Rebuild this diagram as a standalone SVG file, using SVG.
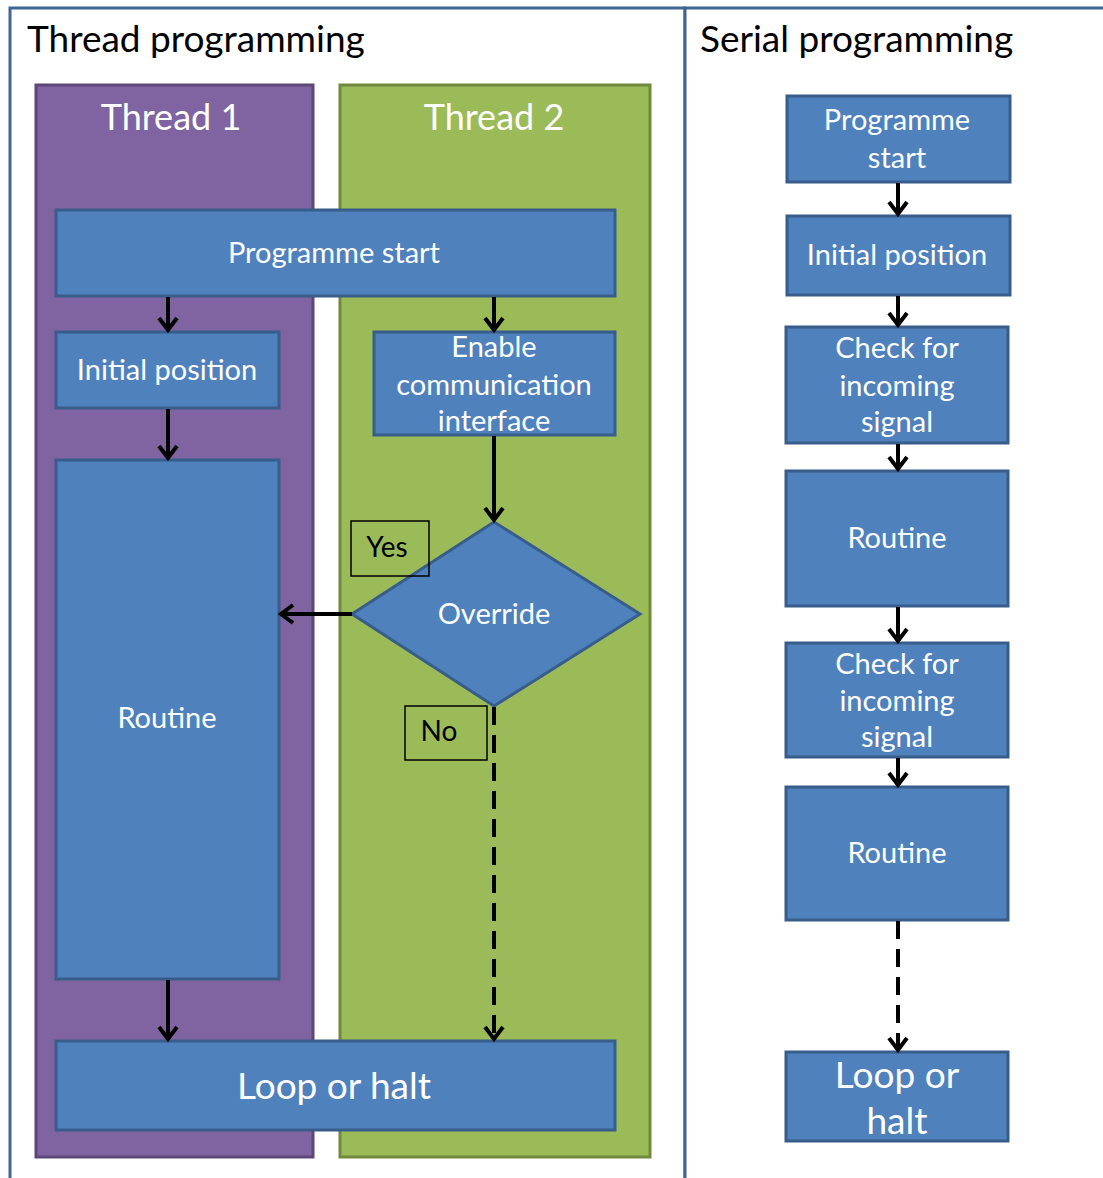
<svg xmlns="http://www.w3.org/2000/svg" width="1103" height="1178" viewBox="0 0 1103 1178">
<style>
.frame{fill:#fff;stroke:#3f6593;stroke-width:3}
.box{fill:#4f81bd;stroke:#385d8a;stroke-width:3}
.t{font-family:Lato,"Open Sans","Liberation Sans",sans-serif;fill:#fff;text-anchor:middle;dominant-baseline:central}
.h{font-family:Lato,"Open Sans","Liberation Sans",sans-serif;fill:#000;font-size:37px}
.c{stroke:#000;stroke-width:4;fill:none;marker-end:url(#ah)}
.d{stroke-dasharray:18,10}
.lbl{fill:none;stroke:#000;stroke-width:1.5}
</style>
<defs>
<marker id="ah" markerUnits="userSpaceOnUse" markerWidth="28" markerHeight="28" viewBox="-14 -14 28 28" refX="0" refY="0" orient="auto">
<path d="M-12,-9 L0,0 L-12,9" fill="none" stroke="#000" stroke-width="4"/>
</marker>
</defs>
<rect width="1103" height="1178" fill="#fff"/>
<g id="thread-panel">
<rect class="frame" x="10" y="8" width="675" height="1172"/>
<text class="h" x="27" y="52">Thread programming</text>
</g>
<g id="serial-panel">
<rect class="frame" x="685" y="8" width="430" height="1172"/>
<text class="h" x="700" y="52">Serial programming</text>
</g>
<g id="thread1">
<rect x="36" y="85" width="277" height="1072" fill="#8064a2" stroke="#5c4776" stroke-width="3"/>
<text class="t" x="171" y="116" font-size="36">Thread 1</text>
</g>
<g id="thread2">
<rect x="340" y="85" width="310" height="1072" fill="#9bbb59" stroke="#71893f" stroke-width="3"/>
<text class="t" x="494" y="116" font-size="36">Thread 2</text>
</g>
<g id="t-start"><rect class="box" x="56" y="210" width="559" height="86"/><text class="t" x="334" y="251" font-size="29">Programme start</text></g>
<g id="t-init"><rect class="box" x="56" y="332" width="223" height="76"/><text class="t" x="167" y="368" font-size="29">Initial position</text></g>
<g id="t-enable"><rect class="box" x="374" y="332" width="241" height="103"/><text class="t" x="494" y="345" font-size="29">Enable</text><text class="t" x="494" y="383" font-size="29">communication</text><text class="t" x="494" y="419" font-size="29">interface</text></g>
<g id="t-routine"><rect class="box" x="56" y="460" width="223" height="519"/><text class="t" x="167" y="716" font-size="29">Routine</text></g>
<g id="t-override"><polygon class="box" points="494,522 640,614 494,706 352,614"/><text class="t" x="494" y="612" font-size="29">Override</text></g>
<g id="t-loop"><rect class="box" x="56" y="1041" width="559" height="89"/><text class="t" x="334" y="1084" font-size="37">Loop or halt</text></g>
<g id="lbl-yes"><rect class="lbl" x="351" y="521" width="78" height="55"/><text x="387" y="546" font-family="Lato,'Open Sans','Liberation Sans',sans-serif" font-size="28" fill="#000" text-anchor="middle" dominant-baseline="central">Yes</text></g>
<g id="lbl-no"><rect class="lbl" x="405" y="706" width="82" height="54"/><text x="439" y="730" font-family="Lato,'Open Sans','Liberation Sans',sans-serif" font-size="28" fill="#000" text-anchor="middle" dominant-baseline="central">No</text></g>
<g id="s-start"><rect class="box" x="787" y="96" width="223" height="86"/><text class="t" x="897" y="118" font-size="29">Programme</text><text class="t" x="897" y="156" font-size="29">start</text></g>
<g id="s-init"><rect class="box" x="787" y="216" width="223" height="79"/><text class="t" x="897" y="253" font-size="29">Initial position</text></g>
<g id="s-check1"><rect class="box" x="786" y="327" width="222" height="116"/><text class="t" x="897" y="346" font-size="29">Check for</text><text class="t" x="897" y="384" font-size="29">incoming</text><text class="t" x="897" y="420" font-size="29">signal</text></g>
<g id="s-routine1"><rect class="box" x="786" y="471" width="222" height="135"/><text class="t" x="897" y="536" font-size="29">Routine</text></g>
<g id="s-check2"><rect class="box" x="786" y="643" width="222" height="114"/><text class="t" x="897" y="662" font-size="29">Check for</text><text class="t" x="897" y="699" font-size="29">incoming</text><text class="t" x="897" y="735" font-size="29">signal</text></g>
<g id="s-routine2"><rect class="box" x="786" y="787" width="222" height="133"/><text class="t" x="897" y="851" font-size="29">Routine</text></g>
<g id="s-loop"><rect class="box" x="786" y="1052" width="222" height="89"/><text class="t" x="897" y="1073" font-size="37">Loop or</text><text class="t" x="897" y="1119" font-size="37">halt</text></g>
<g id="connectors">
<path class="c" d="M168,297 V330"/>
<path class="c" d="M494,297 V330"/>
<path class="c" d="M168,409 V458"/>
<path class="c" d="M494,436 V520"/>
<path class="c" d="M352,614 H281"/>
<path class="c" d="M168,980 V1039"/>
<path class="c d" d="M494,707 V1039"/>
<path class="c" d="M898,183 V214"/>
<path class="c" d="M898,296 V325"/>
<path class="c" d="M898,444 V469"/>
<path class="c" d="M898,607 V641"/>
<path class="c" d="M898,758 V785"/>
<path class="c d" d="M898,921 V1050"/>
</g>
</svg>
